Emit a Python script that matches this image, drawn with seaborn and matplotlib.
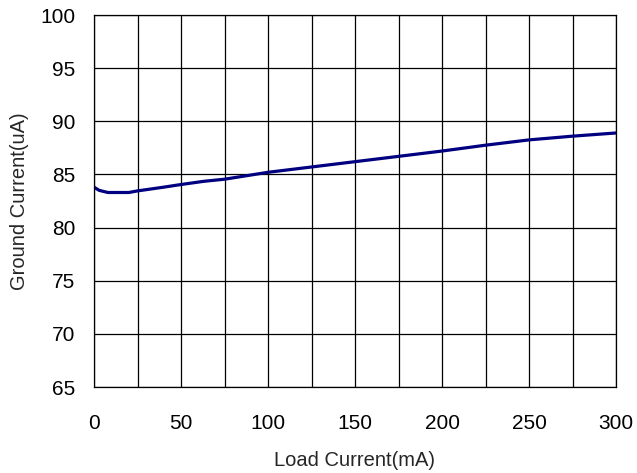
import numpy as np
import pandas as pd
import matplotlib
matplotlib.use("Agg")
import matplotlib.pyplot as plt
import seaborn as sns

## Daten
load_ma = [0, 3, 8, 20, 25, 40, 50, 63, 75, 100, 125, 150, 175, 200, 225, 250, 275, 300]
ground_ua = [83.8, 83.5, 83.3, 83.3, 83.45, 83.8, 84.05, 84.35, 84.55, 85.2, 85.7,
             86.2, 86.7, 87.2, 87.75, 88.25, 88.6, 88.9]
x_ticks = [0, 50, 100, 150, 200, 250, 300]
y_ticks = [65, 70, 75, 80, 85, 90, 95, 100]

df = pd.DataFrame({'Load': load_ma, 'Ground': ground_ua})

sns.set_style("white")
plt.rcParams['font.family'] = ['Liberation Sans', 'DejaVu Sans']

fig = plt.figure(figsize=(6.37, 4.73), dpi=100)
ax = fig.add_axes([94/637, 1 - 387/473, (616 - 94)/637, (387 - 15)/473])

sns.lineplot(data=df, x='Load', y='Ground', ax=ax, color='#000080', linewidth=2.3)

ax.set_xlim(0, 300)
ax.set_ylim(65, 100)
ax.set_xticks(x_ticks)
ax.set_yticks(y_ticks)
ax.set_xticks(np.arange(0, 301, 25), minor=True)
ax.grid(True, which='both', color='black', linewidth=0.9)
ax.tick_params(axis='both', which='both', length=0, labelsize=15, colors='black')
ax.tick_params(axis='x', pad=19.5)
ax.tick_params(axis='y', pad=13.5)

for s in ax.spines.values():
    s.set_color('black')
    s.set_linewidth(0.9)

ax.set_xlabel('Load Current(mA)', fontsize=14.5, labelpad=13)
ax.set_ylabel('Ground Current(uA)', fontsize=14.5, labelpad=8)

fig.savefig('out.png', dpi=100)
